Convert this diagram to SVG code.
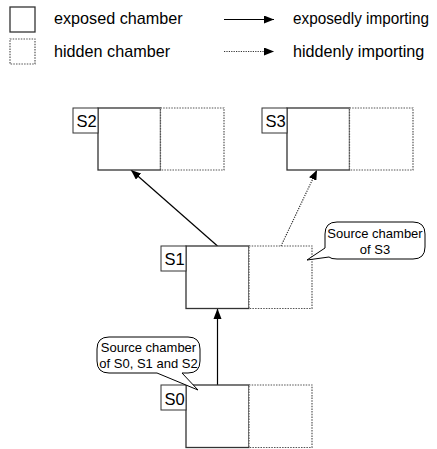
<svg xmlns="http://www.w3.org/2000/svg" width="437" height="449" viewBox="0 0 437 449">
<defs>
<marker id="ah" viewBox="0 0 10 8" refX="10" refY="4" markerWidth="10" markerHeight="8" markerUnits="userSpaceOnUse" orient="auto">
<path d="M0,0 L10,4 L0,8 Z" fill="#000"/>
</marker>
<style>
.ex{fill:#fff;stroke:#333;stroke-width:1.3}
.hd{fill:#fff;stroke:#555;stroke-width:1.2;stroke-dasharray:1.5 1.2}
.lb{fill:#fff;stroke:#333;stroke-width:1}
.t{font-family:"Liberation Sans",Arial,sans-serif;font-size:16.2px;fill:#000}
.nl{font-family:"Liberation Sans",Arial,sans-serif;font-size:16.5px;fill:#000}
.ct{font-family:"Liberation Sans",Arial,sans-serif;font-size:13px;fill:#000;text-anchor:middle}
.sl{stroke:#000;stroke-width:1.2;fill:none}
.dl{stroke:#333;stroke-width:1.2;fill:none;stroke-dasharray:1.2 1.2}
.co{fill:#fff;stroke:#000;stroke-width:1}
</style>
</defs>
<g id="legend">
<rect class="ex" x="10" y="7" width="25" height="25"/>
<text class="t" x="54" y="23.5">exposed chamber</text>
<rect class="hd" x="10" y="39" width="25" height="25"/>
<text class="t" x="54" y="56.5">hidden chamber</text>
<line class="sl" x1="224" y1="19.5" x2="274" y2="19.5" marker-end="url(#ah)"/>
<text class="t" x="293" y="23.5" textLength="136" lengthAdjust="spacingAndGlyphs">exposedly importing</text>
<line class="dl" x1="224" y1="51.5" x2="274" y2="51.5" marker-end="url(#ah)"/>
<text class="t" x="293" y="56.5">hiddenly importing</text>
</g>
<g id="connectors">
<line class="sl" x1="217.5" y1="385" x2="217.5" y2="309"/>
<path d="M213.5,319 L217.5,308.5 L221.5,319 Z" fill="#000"/>
<line class="sl" x1="217.5" y1="246" x2="131" y2="170" marker-end="url(#ah)"/>
<line class="dl" x1="281" y1="246" x2="317" y2="170" marker-end="url(#ah)"/>
</g>
<g id="S2">
<rect class="ex" x="98" y="108" width="62.5" height="62"/>
<rect class="hd" x="160.5" y="108" width="63.5" height="62"/>
<rect class="lb" x="73" y="108" width="25" height="25"/>
<text class="nl" x="76.5" y="127">S2</text>
</g>
<g id="S3">
<rect class="ex" x="287" y="108" width="62.5" height="62"/>
<rect class="hd" x="349.5" y="108" width="63.5" height="62"/>
<rect class="lb" x="262" y="108" width="25" height="25"/>
<text class="nl" x="265.5" y="127">S3</text>
</g>
<g id="S1">
<rect class="ex" x="186" y="246" width="63" height="62.5"/>
<rect class="hd" x="249" y="246" width="63" height="62.5"/>
<rect class="lb" x="161" y="246" width="25" height="25"/>
<text class="nl" x="164.5" y="265">S1</text>
</g>
<g id="S0">
<rect class="ex" x="186" y="385" width="63" height="62.5"/>
<rect class="hd" x="249" y="385" width="63" height="62.5"/>
<rect class="lb" x="161" y="385" width="25" height="25"/>
<text class="nl" x="164.5" y="404.5">S0</text>
</g>
<g id="callout-S3">
<path class="co" d="M337,222 H413 Q425,222 425,234 V247 Q425,259 413,259 H337 Q331,259 329,257 L307,260 L325,248 V234 Q325,222 337,222 Z"/>
<text class="ct" x="375" y="237.5">Source chamber</text>
<text class="ct" x="375" y="253.5">of S3</text>
</g>
<g id="callout-S0">
<path class="co" d="M109,337 H188 Q200,337 200,349 V361 Q200,373 188,373 H182 L198,390 L157,373 H109 Q97,373 97,361 V349 Q97,337 109,337 Z"/>
<text class="ct" x="148.5" y="352">Source chamber</text>
<text class="ct" x="148.5" y="368">of S0, S1 and S2</text>
</g>
</svg>
